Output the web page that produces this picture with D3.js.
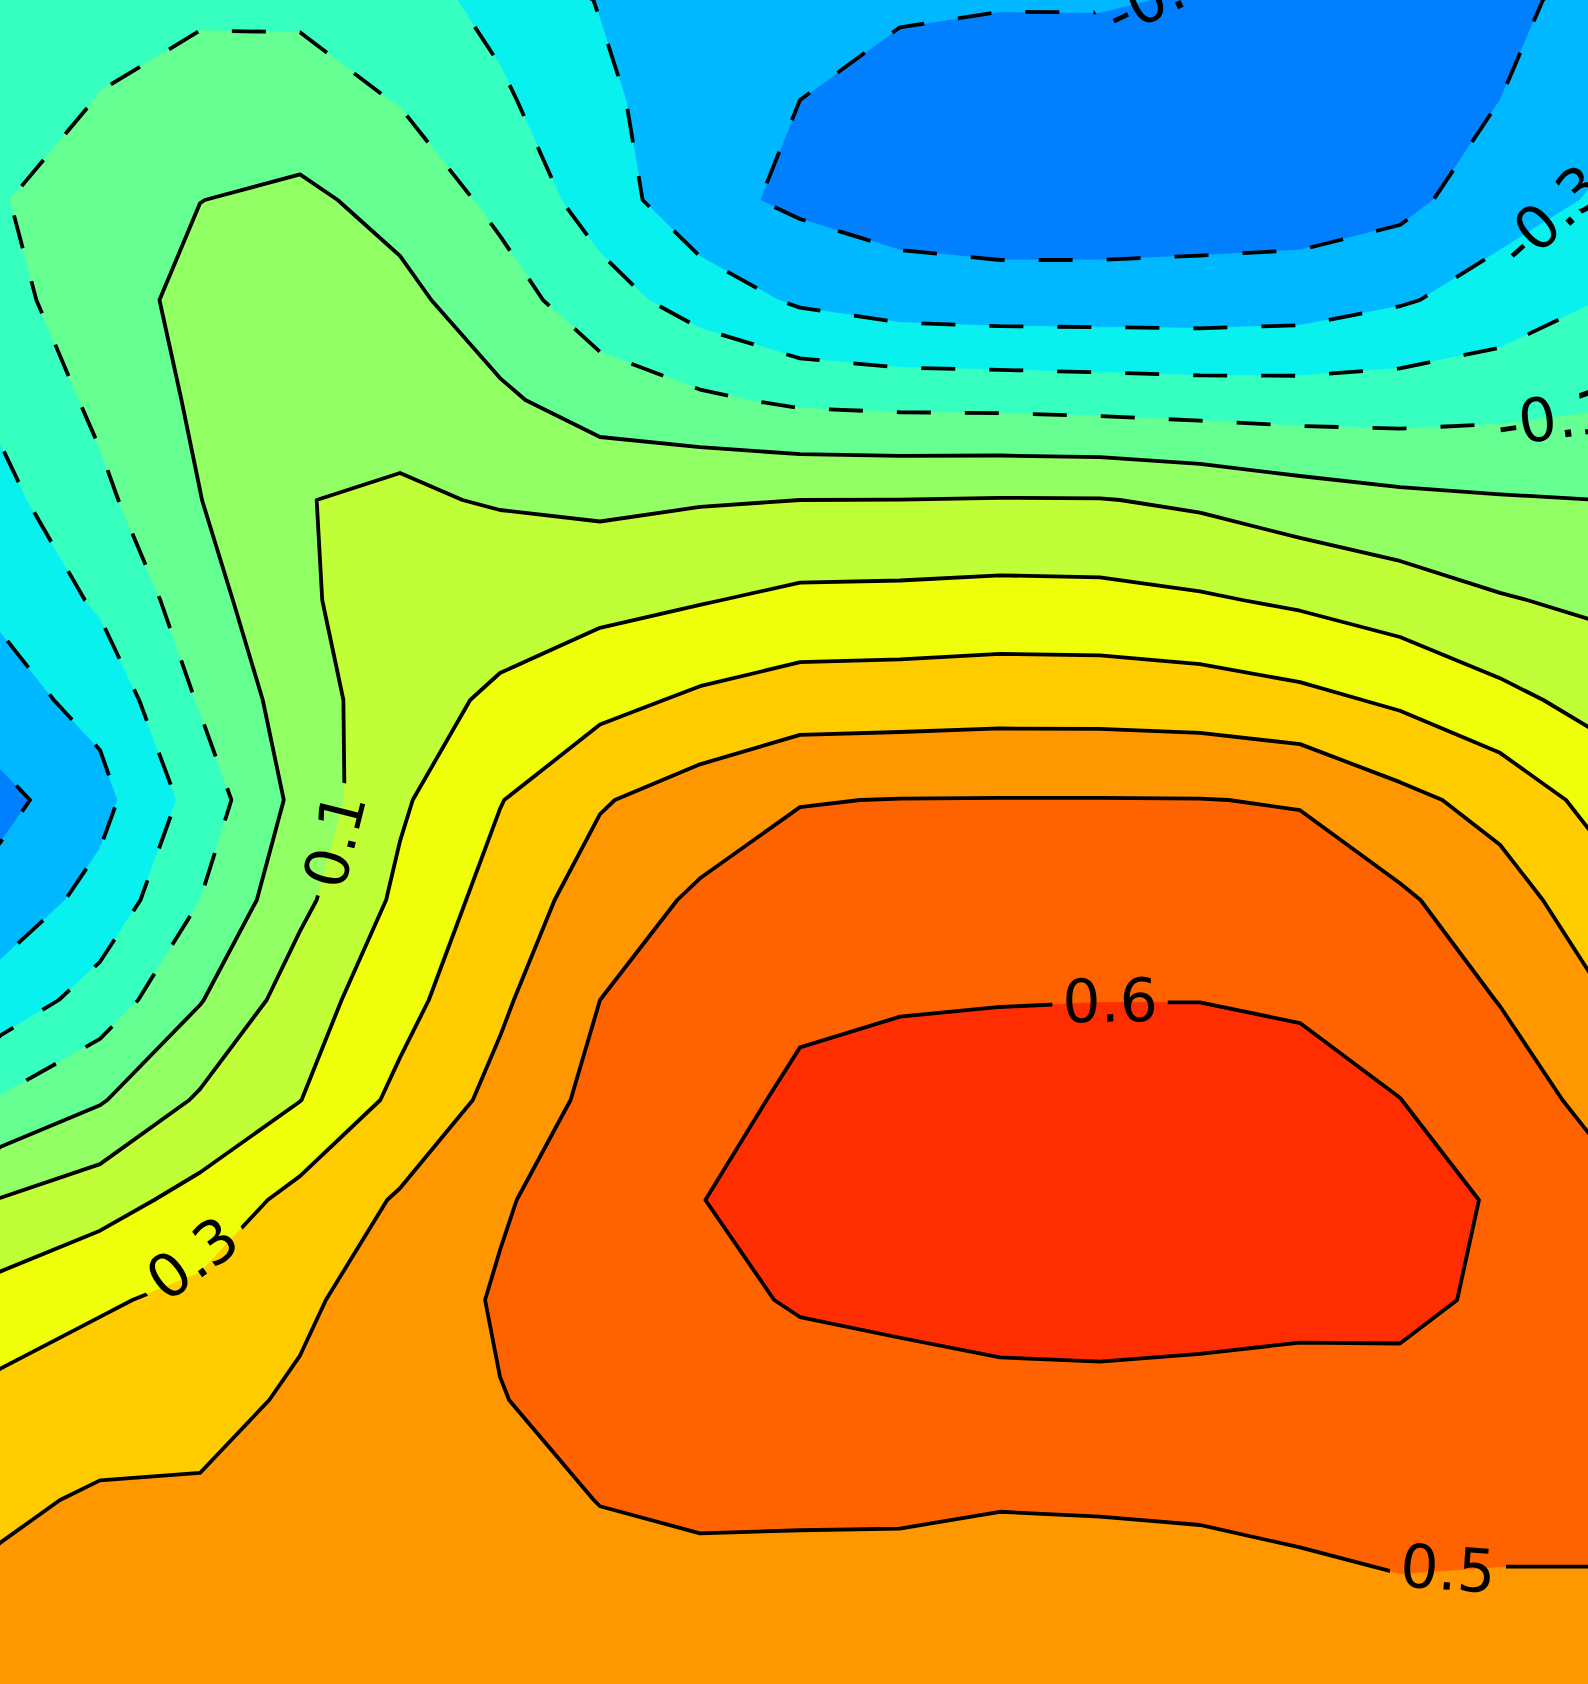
<!DOCTYPE html>
<html>
<head>
<meta charset="utf-8">
<script src="https://cdn.jsdelivr.net/npm/d3@7"></script>
<style>
  html, body { margin: 0; padding: 0; background: #ffffff; overflow: hidden; }
  svg { display: block; }
</style>
</head>
<body>
<svg id="chart" width="1588" height="1684"></svg>
<script>
// ---------------- DATA ----------------
// contour levels (negative levels are drawn dashed)
const levels = [-0.4, -0.3, -0.2, -0.1, 0.0, 0.1, 0.2, 0.3, 0.4, 0.5, 0.6];

// field values, one row per grid line (top to bottom),
// 17 columns each (left to right)
const row00 = [-0.15, -0.12, -0.115, -0.12, -0.16, -0.23, -0.305, -0.33, -0.35, -0.385, -0.392, -0.39, -0.41, -0.44, -0.44, -0.43, -0.36];
const row01 = [-0.13, -0.098, -0.066, -0.058, -0.105, -0.184, -0.279, -0.36, -0.40, -0.44, -0.46, -0.47, -0.47, -0.48, -0.46, -0.40, -0.33];
const row02 = [-0.105, -0.055, -0.001, 0.02, -0.033, -0.124, -0.248, -0.37, -0.42, -0.45, -0.46, -0.46, -0.45, -0.45, -0.43, -0.34, -0.29];
const row03 = [-0.132, -0.044, 0.03, 0.04, 0.026, -0.057, -0.157, -0.246, -0.315, -0.35, -0.36, -0.36, -0.36, -0.35, -0.31, -0.26, -0.20];
const row04 = [-0.178, -0.079, 0.018, 0.06, 0.073, 0.016, -0.047, -0.083, -0.118, -0.128, -0.131, -0.139, -0.148, -0.152, -0.149, -0.134, -0.113];
const row05 = [-0.229, -0.122, -0.002, 0.098, 0.11, 0.094, 0.08, 0.093, 0.1, 0.101, 0.105, 0.104, 0.084, 0.048, 0.022, 0.008, 0.0];
const row06 = [-0.284, -0.185, -0.044, 0.09, 0.135, 0.154, 0.173, 0.194, 0.221, 0.224, 0.231, 0.228, 0.211, 0.185, 0.15, 0.107, 0.081];
const row07 = [-0.335, -0.27, -0.091, 0.054, 0.16, 0.217, 0.27, 0.317, 0.348, 0.352, 0.359, 0.358, 0.35, 0.325, 0.285, 0.226, 0.166];
const row08 = [-0.43, -0.33, -0.16, 0.031, 0.186, 0.296, 0.392, 0.446, 0.497, 0.502, 0.503, 0.503, 0.502, 0.495, 0.425, 0.366, 0.266];
const row09 = [-0.36, -0.268, -0.1, 0.076, 0.22, 0.341, 0.449, 0.515, 0.539, 0.547, 0.549, 0.551, 0.551, 0.544, 0.515, 0.442, 0.344];
const row10 = [-0.26, -0.158, -0.006, 0.153, 0.266, 0.384, 0.5, 0.53, 0.582, 0.594, 0.597, 0.599, 0.599, 0.591, 0.558, 0.497, 0.407];
const row11 = [-0.092, -0.009, 0.113, 0.198, 0.325, 0.428, 0.53, 0.56, 0.62, 0.63, 0.64, 0.64, 0.64, 0.63, 0.601, 0.545, 0.473];
const row12 = [0.104, 0.161, 0.233, 0.332, 0.41, 0.49, 0.55, 0.598, 0.635, 0.65, 0.66, 0.66, 0.66, 0.65, 0.63, 0.592, 0.53];
const row13 = [0.238, 0.288, 0.325, 0.385, 0.443, 0.51, 0.55, 0.577, 0.608, 0.62, 0.635, 0.64, 0.635, 0.62, 0.62, 0.585, 0.555];
const row14 = [0.328, 0.359, 0.373, 0.412, 0.455, 0.497, 0.53, 0.543, 0.561, 0.567, 0.574, 0.575, 0.57, 0.573, 0.574, 0.55, 0.555];
const row15 = [0.385, 0.41, 0.41, 0.43, 0.45, 0.47, 0.502, 0.51, 0.513, 0.512, 0.504, 0.506, 0.51, 0.518, 0.528, 0.52, 0.52];
const row16 = [0.42, 0.43, 0.43, 0.44, 0.45, 0.45, 0.47, 0.48, 0.47, 0.47, 0.47, 0.47, 0.47, 0.48, 0.49, 0.49, 0.49];
const row17 = [0.42, 0.44, 0.44, 0.44, 0.44, 0.43, 0.44, 0.45, 0.44, 0.44, 0.44, 0.44, 0.44, 0.45, 0.46, 0.46, 0.46];

const rows = [row00, row01, row02, row03, row04, row05, row06, row07, row08,
              row09, row10, row11, row12, row13, row14, row15, row16, row17];

// inline contour labels
const labelValues = [-0.4, -0.3, -0.1, 0.1, 0.3, 0.6, 0.5];

// ---------------- LAYOUT ----------------
const W = 1588, H = 1684;
const nx = row00.length, ny = rows.length;
// label anchors in grid units (column, row) and text rotation in degrees
const labelPlacement = [
  {col: 11.62, row: -0.07, angle: -25},
  {col: 15.50, row: 2.15,  angle: -42},
  {col: 15.55, row: 4.17,  angle: -8},
  {col: 3.34,  row: 8.40,  angle: -76},
  {col: 1.92,  row: 12.58, angle: -36},
  {col: 11.10, row: 10.00, angle: -1},
  {col: 14.48, row: 15.68, angle: 4}
];
const fontSize = 60;

// ---------------- COLORS (jet) ----------------
function jet(t) {
  const seg = pts => {
    if (t <= pts[0][0]) return pts[0][1];
    for (let i = 1; i < pts.length; i++) {
      if (t <= pts[i][0]) {
        const [x0, y0] = pts[i - 1], [x1, y1] = pts[i];
        return y0 + (y1 - y0) * (t - x0) / (x1 - x0);
      }
    }
    return pts[pts.length - 1][1];
  };
  const r = seg([[0, 0], [0.35, 0], [0.66, 1], [0.89, 1], [1, 0.5]]);
  const g = seg([[0, 0], [0.125, 0], [0.375, 1], [0.64, 1], [0.91, 0], [1, 0]]);
  const b = seg([[0, 0.5], [0.11, 1], [0.34, 1], [0.65, 0], [1, 0]]);
  return d3.rgb(Math.round(r * 255), Math.round(g * 255), Math.round(b * 255)).formatHex();
}
const norm = d3.scaleLinear().domain([-0.9, 0.9]).range([0, 1]).clamp(true);
const step = levels[1] - levels[0];
const bandColor = lower => jet(norm(lower + step / 2));

// ---------------- SCALES ----------------
const xs = d3.scaleLinear().domain([0, nx - 1]).range([0, (nx - 1) * 100]);
const ys = d3.scaleLinear().domain([0, ny - 1]).range([0, (ny - 1) * 100]);
// d3.contours puts sample i at coordinate i + 0.5
const proj = d3.geoTransform({
  point(px, py) { this.stream.point(xs(px - 0.5), ys(py - 0.5)); }
});
const path = d3.geoPath(proj);

// ---------------- DRAW ----------------
const svg = d3.select("#chart").attr("viewBox", `0 0 ${W} ${H}`);
const values = rows.flat();
const contours = d3.contours().size([nx, ny]).thresholds(levels)(values);

// background = band below the lowest level
svg.append("rect").attr("width", W).attr("height", H)
  .attr("fill", bandColor(levels[0] - step));

svg.append("g").attr("class", "fills")
  .selectAll("path").data(contours).join("path")
  .attr("d", path)
  .attr("fill", d => bandColor(d.value))
  .attr("stroke", d => bandColor(d.value))
  .attr("stroke-width", 0.8);

// labels (measure first, then build mask gaps)
const defs = svg.append("defs");
const mask = defs.append("mask").attr("id", "lblgap")
  .attr("maskUnits", "userSpaceOnUse")
  .attr("x", -100).attr("y", -100).attr("width", W + 200).attr("height", H + 200);
mask.append("rect").attr("x", -100).attr("y", -100)
  .attr("width", W + 200).attr("height", H + 200).attr("fill", "white");

const lines = svg.append("g").attr("class", "lines").attr("mask", "url(#lblgap)");
lines.selectAll("path").data(contours).join("path")
  .attr("d", path)
  .attr("fill", "none")
  .attr("stroke", "#000")
  .attr("stroke-width", 3.8)
  .attr("stroke-linejoin", "round")
  .attr("stroke-dasharray", d => d.value < 0 ? "34,34" : null);

const labelG = svg.append("g").attr("class", "labels");
labelValues.forEach((v, i) => {
  const p = labelPlacement[i];
  const cx = xs(p.col), cy = ys(p.row);
  const t = labelG.append("text")
    .attr("transform", `translate(${cx},${cy}) rotate(${p.angle})`)
    .attr("text-anchor", "middle")
    .attr("dy", "0.36em")
    .attr("font-family", "DejaVu Sans, sans-serif")
    .attr("font-size", fontSize)
    .attr("fill", "#000")
    .text(d3.format(".1f")(v).replace("−", "-"));
  const w = t.node().getComputedTextLength();
  mask.append("rect")
    .attr("transform", `translate(${cx},${cy}) rotate(${p.angle})`)
    .attr("x", -w / 2 - 10).attr("y", -26)
    .attr("width", w + 20).attr("height", 52)
    .attr("fill", "black");
});
</script>
</body>
</html>
